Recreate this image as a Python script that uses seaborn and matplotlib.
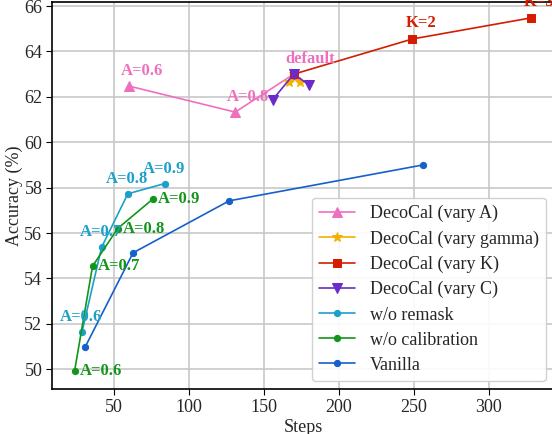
import matplotlib
matplotlib.use("Agg")
import matplotlib.pyplot as plt
import seaborn as sns
import pandas as pd

# values
steps_a = [60, 131, 170]
acc_a = [62.48, 61.33, 63.0]
labels_a = ["A=0.6", "A=0.8", "default"]

steps_gamma = [167, 170, 174]
acc_gamma = [62.65, 63.0, 62.65]

steps_k = [170, 249, 328]
acc_k = [63.0, 64.55, 65.48]
labels_k = ["", "K=2", "K=3"]

steps_c = [156, 170, 180]
acc_c = [61.88, 63.0, 62.54]

steps_remask = [29, 42, 59.5, 84]
acc_remask = [51.65, 55.37, 57.73, 58.18]
labels_remask = ["A=0.6", "A=0.7", "A=0.8", "A=0.9"]

steps_calib = [24, 36, 52.7, 76]
acc_calib = [49.91, 54.54, 56.2, 57.49]
labels_calib = ["A=0.6", "A=0.7", "A=0.8", "A=0.9"]

steps_vanilla = [31, 63, 127, 256]
acc_vanilla = [50.97, 55.13, 57.42, 59.0]

sns.set_style("whitegrid")
plt.rcParams["font.family"] = ["Liberation Serif", "DejaVu Serif"]

series = [
    ("DecoCal (vary A)", steps_a, acc_a, "#ef6fbf", "^", 7),
    ("DecoCal (vary gamma)", steps_gamma, acc_gamma, "#f2b200", "*", 7),
    ("DecoCal (vary K)", steps_k, acc_k, "#d41c00", "s", 6),
    ("DecoCal (vary C)", steps_c, acc_c, "#6a2bc8", "v", 7),
    ("w/o remask", steps_remask, acc_remask, "#1ba1c9", "o", 4.5),
    ("w/o calibration", steps_calib, acc_calib, "#12951a", "o", 4.5),
    ("Vanilla", steps_vanilla, acc_vanilla, "#1560cc", "o", 4.5),
]

fig = plt.figure(figsize=(5.52, 4.34), dpi=100)
ax = fig.add_axes([52 / 552, 45 / 434, 503 / 552, 387 / 434])

for name, xs, ys, color, marker, ms in series:
    df = pd.DataFrame({"Steps": xs, "Accuracy": ys})
    sns.lineplot(data=df, x="Steps", y="Accuracy", sort=False, color=color,
                 marker=marker, markersize=ms, markeredgecolor=color,
                 linewidth=1.2, label=name, ax=ax)

def label_points(xs, ys, texts, color, dx, dy, va):
    for x, y, t in zip(xs, ys, texts):
        if t:
            ax.annotate(t, (x, y), xytext=(dx, dy), textcoords="offset pixels",
                        ha="left", va=va, color=color, fontsize=12,
                        fontweight="bold", zorder=5)

label_points(steps_a, acc_a, labels_a, "#ef6fbf", -8, 7, "bottom")
label_points(steps_k, acc_k, labels_k, "#d41c00", -7, 8, "bottom")
label_points(steps_remask, acc_remask, labels_remask, "#1ba1c9", -22, 7, "bottom")
label_points(steps_calib, acc_calib, labels_calib, "#12951a", 5, 0, "center")

ax.set_xlim(9, 344)
ax.set_ylim(49.13, 66.18)
ax.set_xticks([50, 100, 150, 200, 250, 300])
ax.set_yticks([50, 52, 54, 56, 58, 60, 62, 64, 66])
ax.grid(True, color="#c8c8c8", linewidth=1.2)
for side in ["left", "bottom", "top", "right"]:
    ax.spines[side].set_color("black")
    ax.spines[side].set_linewidth(1.2)
ax.tick_params(axis="both", labelsize=13, length=4, color="black",
               left=True, bottom=True, pad=3)
ax.set_xlabel("Steps", fontsize=13, labelpad=2)
ax.set_ylabel("Accuracy (%)", fontsize=13, labelpad=1)

ax.legend(loc="lower right", bbox_to_anchor=(546 / 552, 53 / 434),
          bbox_transform=fig.transFigure, borderaxespad=0, fontsize=13,
          frameon=True, framealpha=0.9, labelspacing=0.45)

fig.savefig("out.png", dpi=100)
